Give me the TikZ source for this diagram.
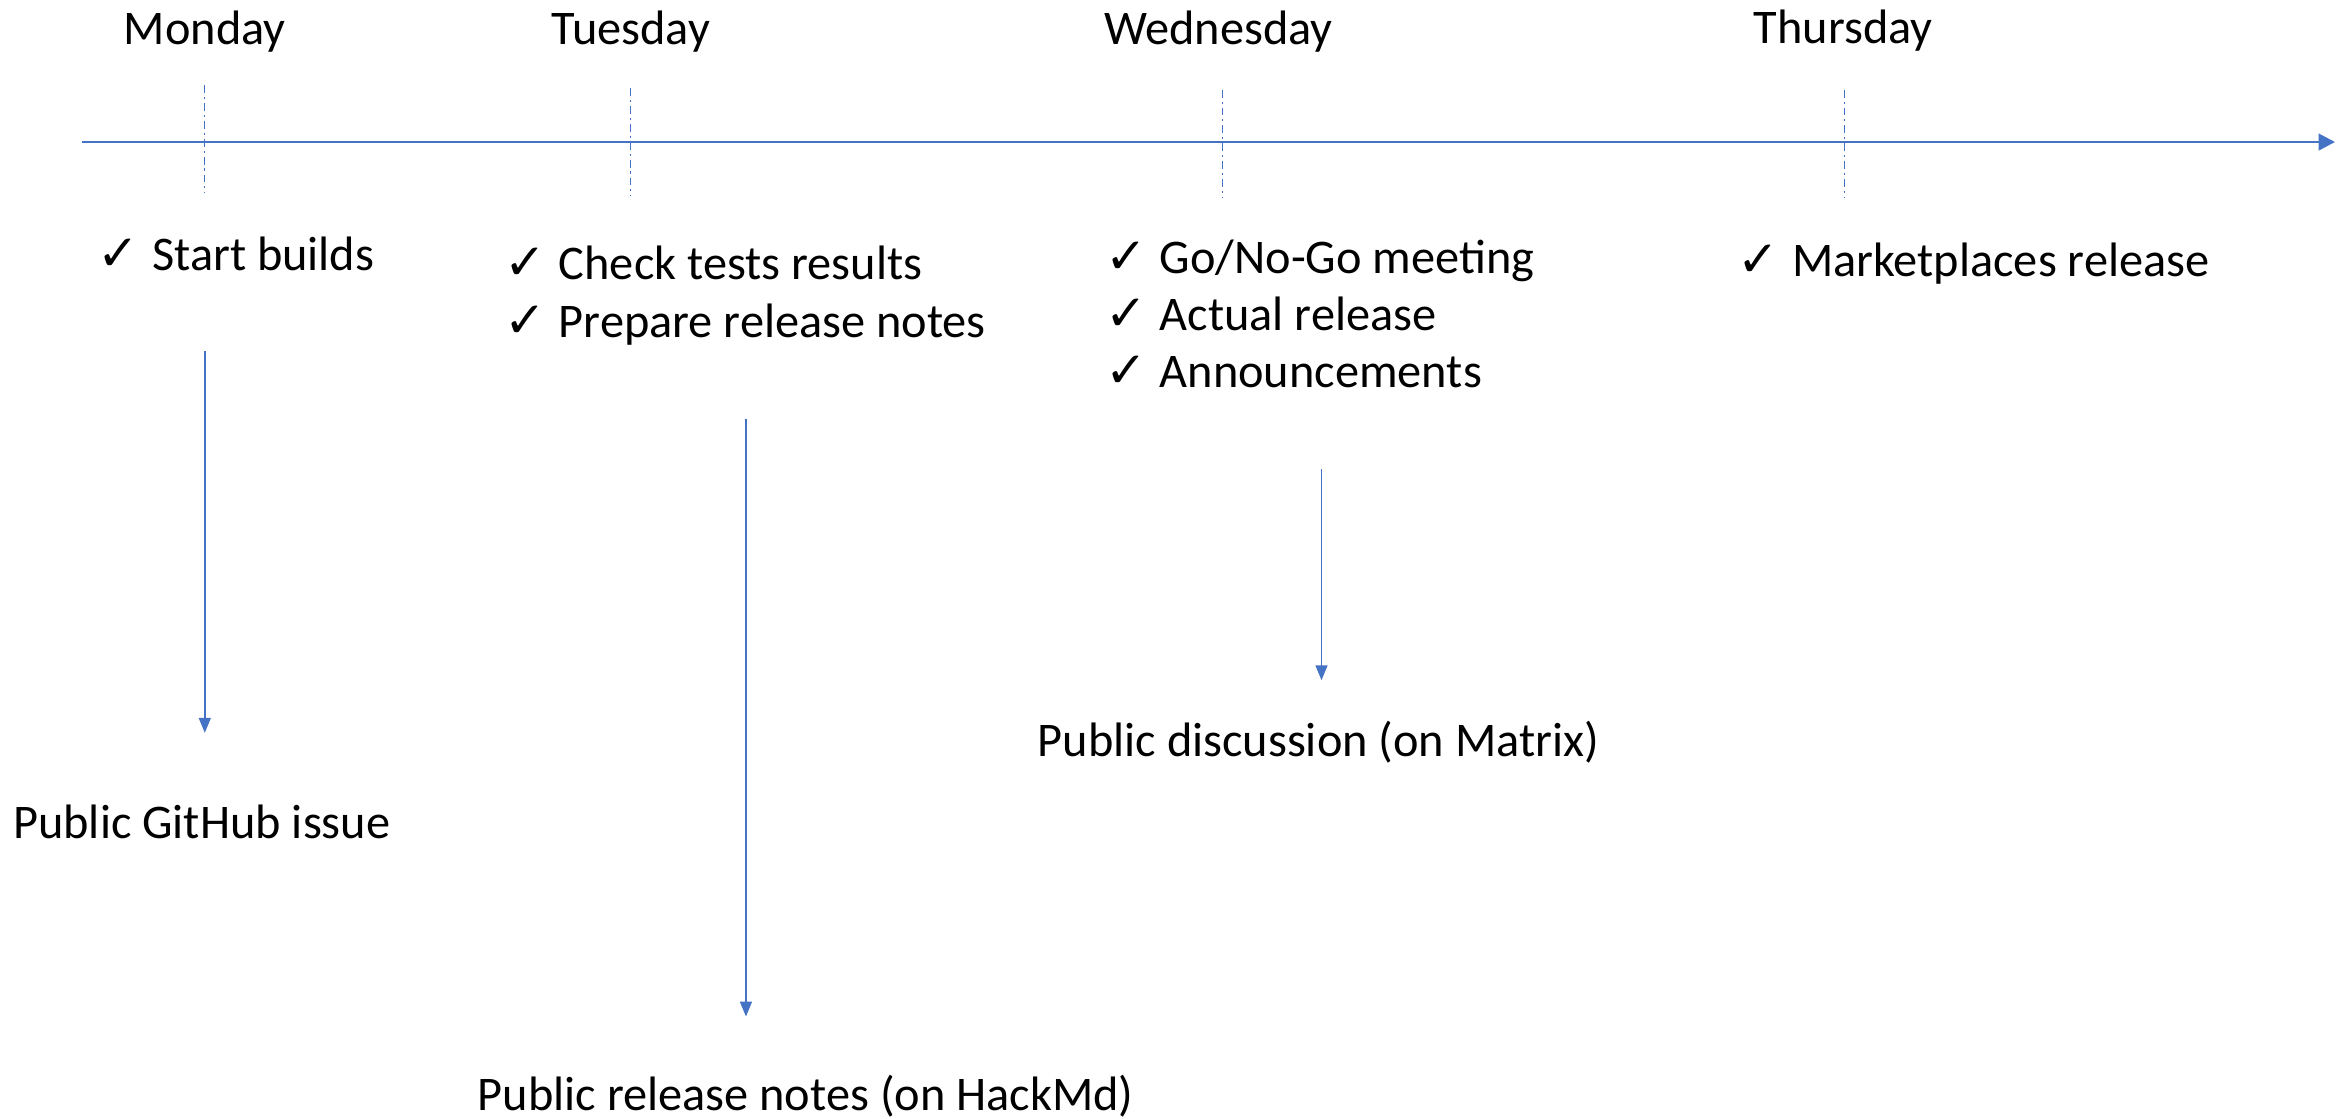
\documentclass[tikz,border=0pt]{standalone}
\usepackage{fontspec}
\setmainfont{Carlito}
\newfontfamily\checkfont{DejaVu Sans}
\usetikzlibrary{arrows.meta}
\definecolor{lineblue}{HTML}{4472C4}
\newcommand{\taskdone}{{\checkfont\fontsize{19}{22}\selectfont ✓}\hspace{0.17cm}}

\begin{document}
\begin{tikzpicture}[x=0.02cm, y=-0.02cm,
	daylabel/.style={anchor=base, inner sep=0pt, font=\fontsize{18.4}{22}\selectfont},
	task/.style={anchor=base west, inner sep=0pt, font=\fontsize{18.4}{22}\selectfont},
	outcome/.style={anchor=base, inner sep=0pt, font=\fontsize{18.4}{22}\selectfont},
	daytick/.style={lineblue, line width=0.4pt, dash pattern=on 3pt off 1.5pt on 0.8pt off 1.5pt},
	flow/.style={lineblue, line width=0.6pt, -{Triangle[length=0.2cm, width=0.16cm]}}]

	\useasboundingbox (0,0) rectangle (1568,748);

	\node[daylabel] (mon) at (137, 30) {Monday};
	\node[daylabel] (tue) at (422, 30) {Tuesday};
	\node[daylabel] (wed) at (815, 30) {Wednesday};
	\node[daylabel] (thu) at (1233, 29) {Thursday};

	\coordinate (axis-start) at (55, 95);
	\coordinate (axis-end) at (1562, 95);
	\draw[lineblue, line width=1.1pt, -{Triangle[length=0.22cm, width=0.22cm]}] (axis-start) -- (axis-end);

	\coordinate (mon-top) at (137, 57);  \coordinate (mon-bot) at (137, 129);
	\coordinate (tue-top) at (422, 59);  \coordinate (tue-bot) at (422, 131);
	\coordinate (wed-top) at (818, 60);  \coordinate (wed-bot) at (818, 132);
	\coordinate (thu-top) at (1234, 60); \coordinate (thu-bot) at (1234, 132);
	\draw[daytick] (mon-top) -- (mon-bot);
	\draw[daytick] (tue-top) -- (tue-bot);
	\draw[daytick] (wed-top) -- (wed-bot);
	\draw[daytick] (thu-top) -- (thu-bot);

	\node[task] (builds) at (65, 181) {\taskdone Start builds};

	\node[task] (tests) at (337, 187) {\taskdone Check tests results};
	\node[task] (notes) at (337, 226) {\taskdone Prepare release notes};

	\node[task] (gonogo) at (739, 183) {\taskdone Go/No-Go meeting};
	\node[task] (release) at (739, 221) {\taskdone Actual release};
	\node[task] (announce) at (739, 259) {\taskdone Announcements};

	\node[task] (market) at (1162, 185) {\taskdone Marketplaces release};

	\node[outcome] (github) at (135, 561) {Public GitHub issue};
	\node[outcome] (hackmd) at (539, 743) {Public release notes (on HackMd)};
	\node[outcome] (matrix) at (882, 506) {Public discussion (on Matrix)};

	\coordinate (mon-out) at (137, 235);
	\coordinate (tue-out) at (499, 280);
	\coordinate (wed-out) at (884, 314);

	\draw[flow, shorten >=0.96cm] (mon-out) -- (mon-out |- github.north);
	\draw[flow, shorten >=0.78cm] (tue-out) -- (tue-out |- hackmd.north);
	\draw[flow, shorten >=0.54cm] (wed-out) -- (wed-out |- matrix.north);

\end{tikzpicture}
\end{document}
